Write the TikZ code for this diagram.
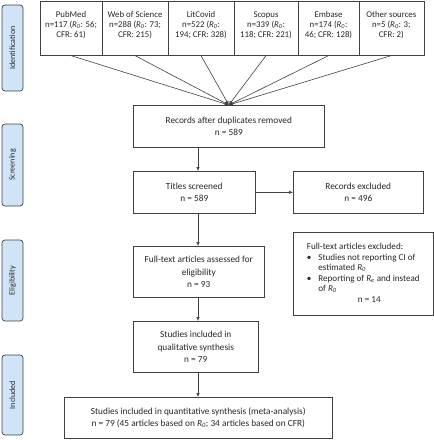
\documentclass[tikz,border=0pt]{standalone}
\usepackage{fontspec}
\setmainfont{Carlito}
\usetikzlibrary{arrows.meta}
\definecolor{phasefill}{HTML}{CFE5F7}
\definecolor{linegray}{HTML}{404040}
\definecolor{txt}{HTML}{262626}
\newcommand{\Rnought}{\textit{R}\textsubscript{\textit{0}}}
\newcommand{\Reff}{\textit{R}\textsubscript{\textit{e}}}
\begin{document}
\begin{tikzpicture}[x=1pt,y=-1pt,
  box/.style={draw=linegray, line width=0.6pt, align=center, inner sep=1pt, text=txt, anchor=north west,
    font=\fontsize{9.3}{12.5}\selectfont},
  srcbox/.style={box, font=\fontsize{8.8}{10}\selectfont, text depth=8pt},
  phase/.style={draw=linegray, line width=0.7pt, fill=phasefill, rounded corners=3pt, rotate=90,
    minimum height=21pt, inner sep=0pt, text=txt, font=\fontsize{8}{9}\selectfont},
  arr/.style={draw=linegray, line width=0.6pt, -{Latex[length=4pt,width=3.5pt]}}]
\useasboundingbox (0,0) rectangle (434,440);
% phase labels
\node[phase, minimum width=86pt] (id) at (12.5,48) {Identification};
\node[phase, minimum width=82pt] (scr) at (12.5,165) {Screening};
\node[phase, minimum width=81pt] (elig) at (12.5,280.5) {Eligibility};
\node[phase, minimum width=80pt] (incl) at (12.5,395) {Included};
% sources
\node[srcbox, minimum width=61.5pt, minimum height=54pt] (pubmed) at (40,1) {PubMed\\n=117 (\Rnought: 56;\\CFR: 61)};
\node[srcbox, minimum width=66.5pt, minimum height=54pt] (wos) at (101.5,1) {Web of Science\\n=288 (\Rnought: 73;\\CFR: 215)};
\node[srcbox, minimum width=65.5pt, minimum height=54pt] (lit) at (168,1) {LitCovid\\n=522 (\Rnought:\\194; CFR: 328)};
\node[srcbox, minimum width=64.5pt, minimum height=54pt] (scopus) at (233.5,1) {Scopus\\n=339 (\Rnought:\\118; CFR: 221)};
\node[srcbox, minimum width=60.5pt, minimum height=54pt] (embase) at (298,1) {Embase\\n=174 (\Rnought:\\46; CFR: 128)};
\node[srcbox, minimum width=65pt, minimum height=54pt] (other) at (358.5,1) {Other sources\\n=5 (\Rnought: 3;\\CFR: 2)};
% main flow
\node[box, minimum width=191pt, minimum height=42pt] (dup) at (133,105) {Records after duplicates removed\\n = 589};
\node[box, minimum width=122pt, minimum height=42pt] (titles) at (133,171) {Titles screened\\n = 589};
\node[box, minimum width=130pt, minimum height=42pt] (excl) at (293,171) {Records excluded\\n = 496};
\node[box, minimum width=131pt, minimum height=51pt] (full) at (133,246) {Full-text articles assessed for\\eligibility\\n = 93};
\node[box, minimum width=140pt, minimum height=83pt, font=\fontsize{9.1}{10.6}\selectfont] (fexcl) at (293,232) {%
  \begin{tabular}{@{}l@{\hspace{7pt}}l@{}}
  \multicolumn{2}{@{}l@{}}{Full-text articles excluded:}\\
  •& Studies not reporting CI of\\
   & estimated \Rnought\\
  •& Reporting of \Reff{} and instead\\
   & of \Rnought\\
  \multicolumn{2}{c}{\hspace{12pt}n = 14}
  \end{tabular}};
\node[box, minimum width=125pt, minimum height=51pt] (qual) at (133,321) {Studies included in\\qualitative synthesis\\n = 79};
\node[box, minimum width=268pt, minimum height=41pt] (final) at (64,397) {Studies included in quantitative synthesis (meta-analysis)\\n = 79 (45 articles based on \Rnought; 34 articles based on CFR)};
% connectors
\coordinate (col) at (198,0);
\foreach \s in {pubmed,wos,lit,scopus,embase,other}
  \draw[arr] (\s.south) -- (dup.north);
\draw[arr] (dup.south -| col) -- (titles.north -| col);
\draw[arr] (titles.south -| col) -- (full.north -| col);
\draw[arr] (full.south -| col) -- (qual.north -| col);
\draw[arr] (qual.south -| col) -- (final.north -| col);
\draw[arr] (titles.east) -- (excl.west);
\end{tikzpicture}
\end{document}
